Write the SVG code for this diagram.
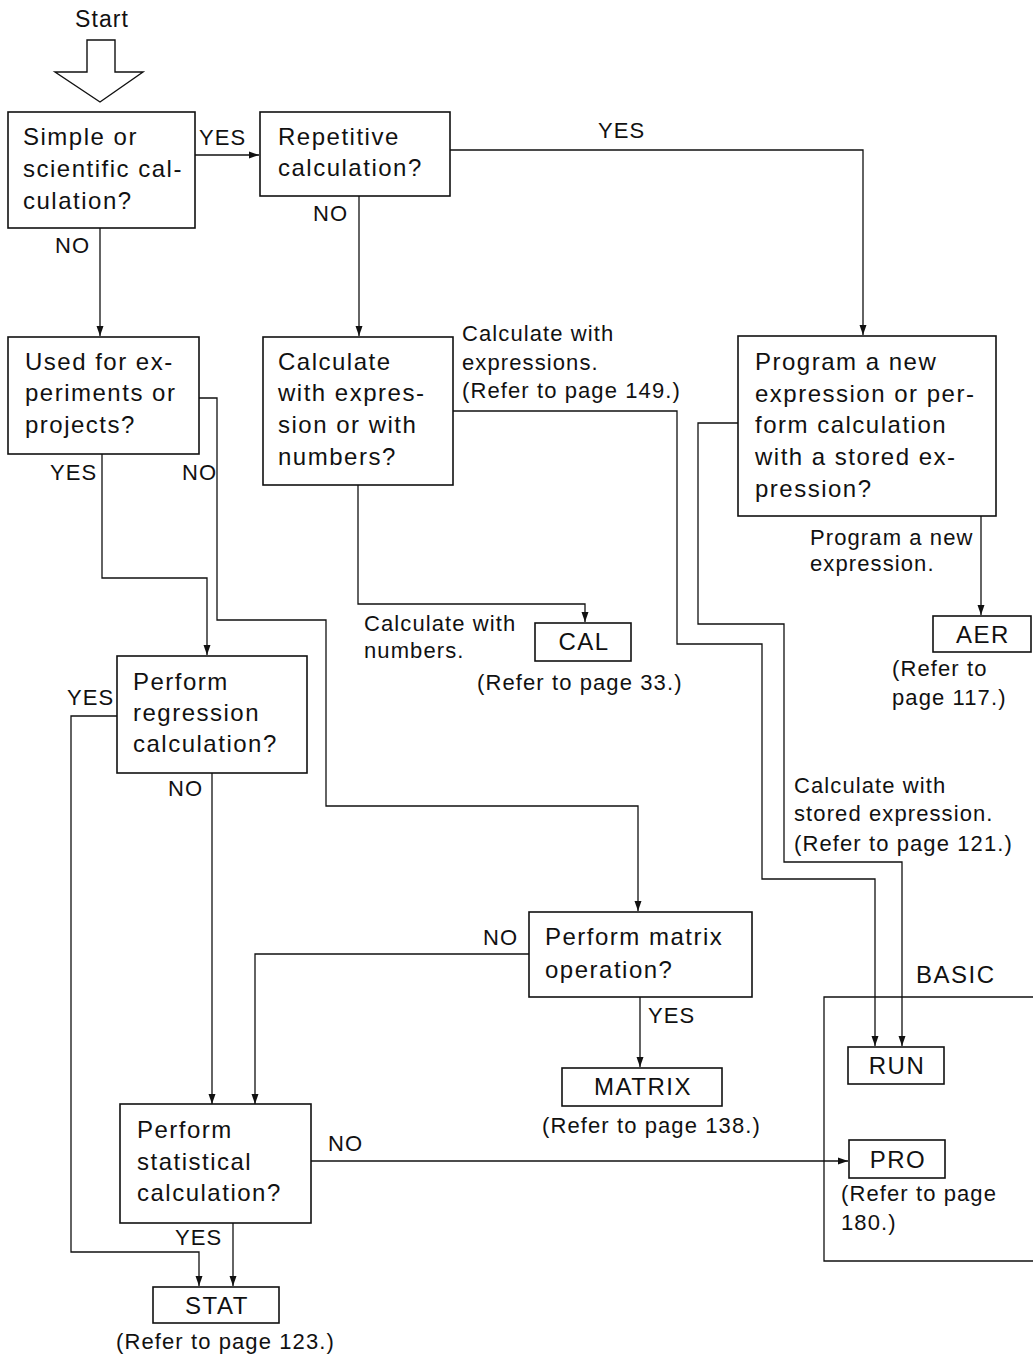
<svg xmlns="http://www.w3.org/2000/svg" width="1033" height="1354" viewBox="0 0 1033 1354">
<defs>
<style>
.box{fill:#fff;stroke:#111;stroke-width:1.6}
.c{fill:none;stroke:#111;stroke-width:1.3}
.t{font-family:"Liberation Sans",Arial,Helvetica,sans-serif;font-size:24px;letter-spacing:1.5px;fill:#111}
.n{font-family:"Liberation Sans",Arial,Helvetica,sans-serif;font-size:22px;letter-spacing:1.1px;fill:#111}
.m{text-anchor:middle}
</style>
<marker id="ah" markerUnits="userSpaceOnUse" markerWidth="10" markerHeight="10" viewBox="0 0 10 10" refX="10" refY="5" orient="auto">
<path d="M0,1.5 L10,5 L0,8.5 Z" fill="#111"/>
</marker>
</defs>
<rect width="1033" height="1354" fill="#fff"/>

<g id="start">
<text class="n m" x="102" y="27" style="font-size:23px">Start</text>
<polygon points="87,40 115,40 115,72 143,72 100,102 55,72 87,72" fill="#fff" stroke="#111" stroke-width="1.4"/>
</g>

<g id="connectors">
<path class="c" d="M195,155 H259" marker-end="url(#ah)"/>
<path class="c" d="M450,150 H863 V335" marker-end="url(#ah)"/>
<path class="c" d="M359,196 V336" marker-end="url(#ah)"/>
<path class="c" d="M100,228 V336" marker-end="url(#ah)"/>
<path class="c" d="M102,454 V578 H207 V655" marker-end="url(#ah)"/>
<path class="c" d="M199,398 H217 V620 H326 V806 H638 V911" marker-end="url(#ah)"/>
<path class="c" d="M358,485 V604 H585 V622" marker-end="url(#ah)"/>
<path class="c" d="M453,411 H677 V644 H762 V879 H875 V1046" marker-end="url(#ah)"/>
<path class="c" d="M738,423 H698 V624 H784 V862 H902 V1046" marker-end="url(#ah)"/>
<path class="c" d="M981,516 V615" marker-end="url(#ah)"/>
<path class="c" d="M117,716 H71 V1252 H199 V1286" marker-end="url(#ah)"/>
<path class="c" d="M212,773 V1104" marker-end="url(#ah)"/>
<path class="c" d="M529,954 H255 V1104" marker-end="url(#ah)"/>
<path class="c" d="M640,997 V1067" marker-end="url(#ah)"/>
<path class="c" d="M310,1161 H848" marker-end="url(#ah)"/>
<path class="c" d="M233,1223 V1286" marker-end="url(#ah)"/>
</g>

<g id="labels">
<text class="n" x="199" y="145">YES</text>
<text class="n" x="598" y="138">YES</text>
<text class="n" x="313" y="221">NO</text>
<text class="n" x="55" y="253">NO</text>
<text class="n" x="50" y="480">YES</text>
<text class="n" x="182" y="480">NO</text>
<text class="n" x="67" y="705">YES</text>
<text class="n" x="168" y="796">NO</text>
<text class="n" x="483" y="945">NO</text>
<text class="n" x="648" y="1023">YES</text>
<text class="n" x="328" y="1151">NO</text>
<text class="n" x="175" y="1245">YES</text>
<text class="n" x="462" y="341">Calculate with</text>
<text class="n" x="462" y="370">expressions.</text>
<text class="n" x="462" y="398">(Refer to page 149.)</text>
<text class="n" x="364" y="631">Calculate with</text>
<text class="n" x="364" y="658">numbers.</text>
<text class="n" x="810" y="545">Program a new</text>
<text class="n" x="810" y="571">expression.</text>
<text class="n" x="794" y="793">Calculate with</text>
<text class="n" x="794" y="821">stored expression.</text>
<text class="n" x="794" y="851">(Refer to page 121.)</text>
</g>

<g id="n1">
<rect class="box" x="8" y="112" width="187" height="116"/>
<text class="t" x="23" y="145">Simple or</text>
<text class="t" x="23" y="177">scientific cal-</text>
<text class="t" x="23" y="209">culation?</text>
</g>
<g id="n2">
<rect class="box" x="260" y="112" width="190" height="84"/>
<text class="t" x="278" y="145">Repetitive</text>
<text class="t" x="278" y="176">calculation?</text>
</g>
<g id="n3">
<rect class="box" x="8" y="337" width="191" height="117"/>
<text class="t" x="25" y="370">Used for ex-</text>
<text class="t" x="25" y="401">periments or</text>
<text class="t" x="25" y="433">projects?</text>
</g>
<g id="n4">
<rect class="box" x="263" y="337" width="190" height="148"/>
<text class="t" x="278" y="370">Calculate</text>
<text class="t" x="278" y="401">with expres-</text>
<text class="t" x="278" y="433">sion or with</text>
<text class="t" x="278" y="465">numbers?</text>
</g>
<g id="n5">
<rect class="box" x="738" y="336" width="258" height="180"/>
<text class="t" x="755" y="370">Program a new</text>
<text class="t" x="755" y="402">expression or per-</text>
<text class="t" x="755" y="433">form calculation</text>
<text class="t" x="755" y="465">with a stored ex-</text>
<text class="t" x="755" y="497">pression?</text>
</g>
<g id="cal">
<rect class="box" x="535" y="623" width="96" height="38"/>
<text class="t m" x="584" y="650">CAL</text>
<text class="n" x="477" y="690">(Refer to page 33.)</text>
</g>
<g id="aer">
<rect class="box" x="933" y="616" width="98" height="36"/>
<text class="t m" x="983" y="643">AER</text>
<text class="n" x="892" y="676">(Refer to</text>
<text class="n" x="892" y="705">page 117.)</text>
</g>
<g id="n6">
<rect class="box" x="117" y="656" width="190" height="117"/>
<text class="t" x="133" y="690">Perform</text>
<text class="t" x="133" y="721">regression</text>
<text class="t" x="133" y="752">calculation?</text>
</g>
<g id="n7">
<rect class="box" x="529" y="912" width="223" height="85"/>
<text class="t" x="545" y="945">Perform matrix</text>
<text class="t" x="545" y="978">operation?</text>
</g>
<g id="matrix">
<rect class="box" x="562" y="1068" width="160" height="38"/>
<text class="t m" x="643" y="1095">MATRIX</text>
<text class="n" x="542" y="1133">(Refer to page 138.)</text>
</g>
<g id="basic">
<text class="t" x="916" y="983">BASIC</text>
<path class="c" d="M1033,997 H824 V1261 H1033"/>
</g>
<g id="run">
<rect class="box" x="848" y="1047" width="96" height="37"/>
<text class="t m" x="897" y="1074">RUN</text>
</g>
<g id="pro">
<rect class="box" x="849" y="1140" width="96" height="38"/>
<text class="t m" x="898" y="1168">PRO</text>
<text class="n" x="841" y="1201">(Refer to page</text>
<text class="n" x="841" y="1230">180.)</text>
</g>
<g id="n8">
<rect class="box" x="120" y="1104" width="191" height="119"/>
<text class="t" x="137" y="1138">Perform</text>
<text class="t" x="137" y="1170">statistical</text>
<text class="t" x="137" y="1201">calculation?</text>
</g>
<g id="stat">
<rect class="box" x="153" y="1287" width="126" height="36"/>
<text class="t m" x="217" y="1314">STAT</text>
<text class="n" x="116" y="1349">(Refer to page 123.)</text>
</g>
</svg>
